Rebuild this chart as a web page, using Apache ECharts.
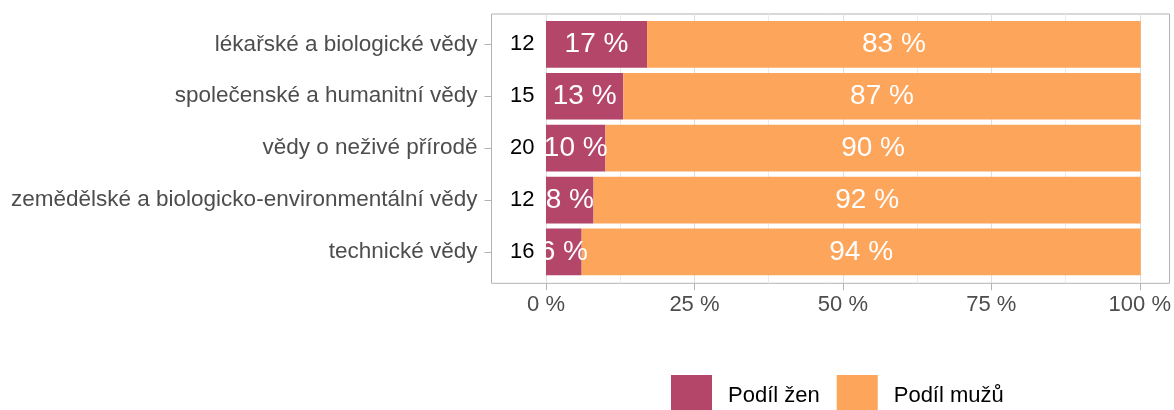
<!DOCTYPE html>
<html>
<head>
<meta charset="utf-8">
<script src="https://cdn.jsdelivr.net/npm/echarts@6/dist/echarts.min.js"></script>
<style>
  html, body { margin: 0; padding: 0; background: #ffffff; }
  #chart { width: 1174px; height: 410px; }
</style>
</head>
<body>
<div id="chart"></div>
<script>
// Fields of science, top to bottom
const categories = [
  'lékařské a biologické vědy',
  'společenské a humanitní vědy',
  'vědy o neživé přírodě',
  'zemědělské a biologicko-environmentální vědy',
  'technické vědy'
];
// Share of women / men (percent)
const womenShare = [17, 13, 10, 8, 6];
const menShare = [83, 87, 90, 92, 94];
// Count shown left of each bar
const counts = [12, 15, 20, 12, 16];
// Percentage axis ticks
const xTicks = [0, 25, 50, 75, 100];

const seriesNames = ['Podíl žen', 'Podíl mužů'];
const colors = ['#b4466a', '#fda55a'];

const FONT = '"Liberation Sans", Arial, sans-serif';
const TEXT_GREY = '#4d4d4d';
const FRAME_GREY = '#b3b3b3';
const COUNT_LABEL_X = -4;

// Outer panel extents (px)
const panel = { left: 491.5, right: 4.5, top: 14, bottom: 126.7 };
// x range of the panel, in percent
const X_MIN = -9.16, X_MAX = 104.84;

const chart = echarts.init(document.getElementById('chart'), null, { renderer: 'canvas' });

chart.setOption({
  animation: false,
  textStyle: { fontFamily: FONT },
  color: colors,
  grid: [
    // frame
    { left: panel.left, right: panel.right, top: panel.top, bottom: panel.bottom,
      show: true, borderColor: FRAME_GREY, borderWidth: 1, backgroundColor: 'transparent' },
    // 0–100 % scale: grid lines and tick labels
    { left: 546, right: 33.3, top: panel.top, bottom: panel.bottom },
    // bars
    { left: panel.left, right: panel.right, top: 18.4, bottom: 132.1 }
  ],
  xAxis: [
    { gridIndex: 0, type: 'value', show: false },
    {
      gridIndex: 1, type: 'value',
      min: xTicks[0], max: xTicks[xTicks.length - 1], interval: xTicks[1] - xTicks[0],
      axisLine: { show: false },
      axisTick: { show: true, length: 7, lineStyle: { color: FRAME_GREY, width: 1 } },
      axisLabel: { formatter: '{value} %', margin: 11, fontSize: 22, color: TEXT_GREY, fontFamily: FONT },
      splitLine: { show: true, lineStyle: { color: '#dedede', width: 1 } },
      minorTick: { show: false, splitNumber: 2 },
      minorSplitLine: { show: true, lineStyle: { color: '#ebebeb', width: 1 } }
    },
    { gridIndex: 2, type: 'value', min: X_MIN, max: X_MAX, show: false }
  ],
  yAxis: [
    { gridIndex: 0, type: 'value', show: false },
    { gridIndex: 1, type: 'value', show: false },
    {
      gridIndex: 2, type: 'category', data: categories, inverse: true,
      position: 'left',
      axisLine: { show: false, onZero: false },
      axisTick: { show: true, alignWithLabel: true, length: 7, lineStyle: { color: FRAME_GREY, width: 1 } },
      axisLabel: { margin: 14, fontSize: 22.5, color: TEXT_GREY, fontFamily: FONT },
      splitLine: { show: false }
    }
  ],
  legend: {
    data: seriesNames,
    icon: 'rect',
    left: 671, top: 375,
    padding: 0,
    itemWidth: 41, itemHeight: 41, itemGap: 17,
    textStyle: { fontSize: 22, color: '#000000', fontFamily: FONT, padding: [0, 0, 0, 11] }
  },
  series: [
    {
      name: seriesNames[0], type: 'bar', stack: 'share',
      xAxisIndex: 2, yAxisIndex: 2,
      barCategoryGap: '10%',
      data: womenShare,
      itemStyle: { color: colors[0] },
      label: { show: true, position: 'inside', color: '#ffffff', fontSize: 28, fontFamily: FONT,
               formatter: p => p.value + ' %' }
    },
    {
      name: seriesNames[1], type: 'bar', stack: 'share',
      xAxisIndex: 2, yAxisIndex: 2,
      barCategoryGap: '10%',
      data: menShare,
      itemStyle: { color: colors[1] },
      label: { show: true, position: 'inside', color: '#ffffff', fontSize: 28, fontFamily: FONT,
               formatter: p => p.value + ' %' }
    },
    {
      name: 'count', type: 'scatter',
      xAxisIndex: 2, yAxisIndex: 2,
      symbolSize: 1,
      clip: false,
      itemStyle: { color: 'rgba(0,0,0,0)', opacity: 1 },
      silent: true,
      data: counts.map((c, i) => [COUNT_LABEL_X, categories[i]]),
      label: { show: true, position: 'inside', color: '#000000', fontSize: 22, fontFamily: FONT,
               formatter: p => String(counts[p.dataIndex]) }
    }
  ]
});
</script>
</body>
</html>
